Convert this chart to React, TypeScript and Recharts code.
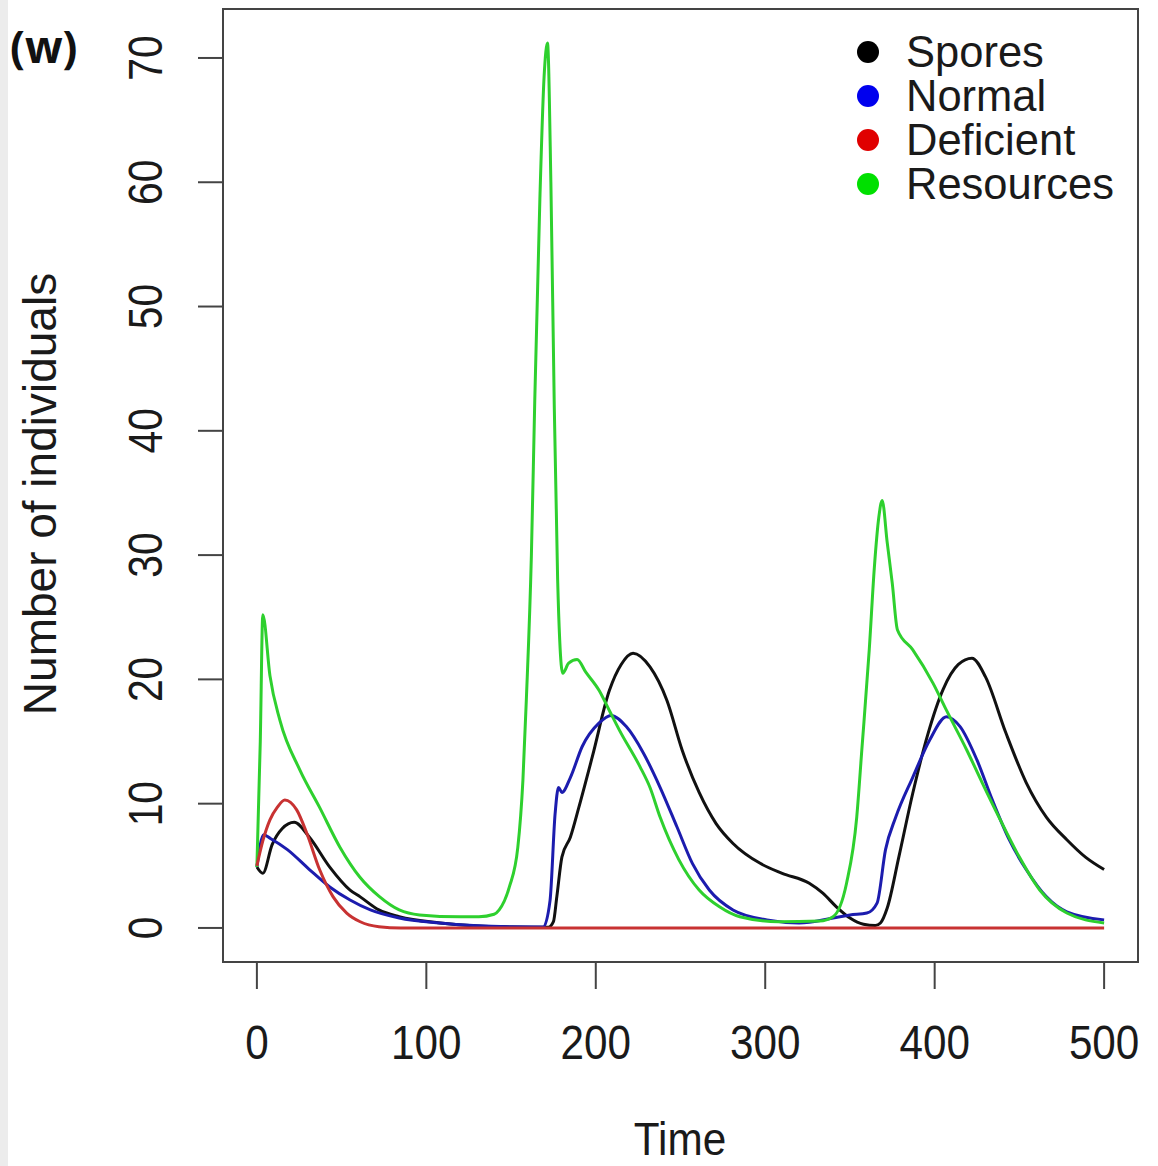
import React from "react";
import {
  LineChart,
  Line,
  XAxis,
  YAxis,
  Legend,
  ReferenceArea,
} from "recharts";

// time points and values for each population
const sporesTime = [0, 3.5, 9, 15, 22, 31, 43, 55, 61, 72, 84, 108, 130, 150, 172, 175, 177, 180, 185, 190, 198, 208, 215, 222, 232, 242, 251, 261, 271, 281, 297, 310, 326, 334, 342, 350, 358, 365, 368, 372, 379, 387, 396, 405, 414, 422, 430, 442, 454, 466, 478, 489, 500];
const sporesValue = [4.9, 4.4, 6.7, 8.0, 8.5, 7.3, 4.9, 3.05, 2.5, 1.45, 0.9, 0.4, 0.15, 0.08, 0.05, 0.5, 2.5, 5.7, 7.3, 9.7, 13.8, 19.1, 21.2, 22.1, 21.0, 18.3, 14.3, 10.9, 8.4, 6.8, 5.2, 4.4, 3.6, 2.8, 1.7, 0.8, 0.3, 0.2, 0.4, 1.6, 5.8, 10.8, 15.6, 19.2, 21.2, 21.7, 20.2, 15.7, 11.7, 8.9, 7.1, 5.7, 4.7];

const normalTime = [0, 4, 8, 18, 31, 43, 55, 67, 84, 108, 150, 169, 173, 176, 178, 180, 185, 192, 202, 209, 218, 228, 238, 248, 257, 267, 281, 301, 320, 340, 350, 360, 366, 371, 377, 387, 397, 407, 415, 425, 434, 444, 454, 466, 478, 500];
const normalValue = [4.9, 7.5, 7.2, 6.3, 4.7, 3.3, 2.25, 1.45, 0.8, 0.4, 0.1, 0.08, 2.2, 9.2, 11.3, 10.9, 12.1, 14.6, 16.5, 17.1, 16.2, 14.1, 11.3, 8.1, 5.2, 3.05, 1.45, 0.65, 0.4, 0.8, 1.05, 1.2, 2.0, 6.3, 8.9, 12.1, 15.1, 17.0, 16.2, 13.5, 10.3, 7.1, 4.7, 2.5, 1.3, 0.65];

const deficientTime = [0, 3.5, 7.7, 12, 16.5, 23.5, 29.5, 37, 45, 53, 61, 72, 85, 200, 300, 400, 500];
const deficientValue = [5.0, 7.0, 8.7, 9.7, 10.3, 9.5, 7.6, 4.7, 2.5, 1.2, 0.5, 0.1, 0, 0, 0, 0, 0];

const resourcesTime = [0, 2, 3.5, 7.7, 13.6, 25.4, 37, 49, 60.7, 72.5, 84, 96, 120, 131, 140, 143, 149, 154, 157, 159, 162, 164, 167, 169.5, 171.5, 173.5, 175.5, 177.5, 178.7, 180.5, 184, 189, 194, 202, 208, 214, 226, 232, 238, 249, 261, 273, 285, 308, 332, 340, 348, 354, 357, 361.4, 364.4, 367, 369, 372, 375, 378, 387, 399, 407, 419, 428, 438, 450, 462, 478, 500];
const resourcesValue = [4.9, 15, 25.2, 20.3, 16.7, 12.7, 9.7, 6.5, 4.1, 2.5, 1.45, 1.05, 0.9, 0.9, 1.1, 1.45, 3.3, 6.5, 11.9, 18.3, 30, 42.5, 58.6, 68.5, 71.2, 60, 42, 28, 23.2, 20.5, 21.3, 21.6, 20.6, 19.1, 17.5, 15.9, 13.0, 11.3, 8.9, 5.5, 3.05, 1.7, 0.9, 0.5, 0.55, 0.9, 3.6, 8.9, 14.3, 22.4, 29, 33, 34.4, 31, 27.7, 24.0, 22.4, 19.7, 17.5, 14.3, 11.7, 8.9, 5.7, 3.05, 1.2, 0.4];

const xTicks = [0, 100, 200, 300, 400, 500];
const yTicks = [0, 10, 20, 30, 40, 50, 60, 70];

const toPoints = (t: number[], v: number[]) => t.map((time, i) => ({ t: time, v: v[i] }));

const series = [
  { name: "Spores", points: toPoints(sporesTime, sporesValue), stroke: "#111111", dot: "#000000" },
  { name: "Normal", points: toPoints(normalTime, normalValue), stroke: "#1c1cae", dot: "#0000ee" },
  { name: "Resources", points: toPoints(resourcesTime, resourcesValue), stroke: "#2ed02e", dot: "#00e000" },
  { name: "Deficient", points: toPoints(deficientTime, deficientValue), stroke: "#c83232", dot: "#e00000" },
];
const legendOrder = ["Spores", "Normal", "Deficient", "Resources"];

const FONT = "'Liberation Sans', Arial, Helvetica, sans-serif";
const INK = "#1a1a1a";
const AXIS = "#444";

function XTick(props: any) {
  const { x, y, payload } = props;
  return (
    <text
      transform={`translate(${x}, ${y + 68}) scale(0.88, 1)`}
      textAnchor="middle"
      fontSize={48}
      fontFamily={FONT}
      fill={INK}
    >
      {payload.value}
    </text>
  );
}

function YTick(props: any) {
  const { x, y, payload } = props;
  return (
    <text
      transform={`translate(${x - 34}, ${y}) rotate(-90) scale(0.85, 1)`}
      textAnchor="middle"
      fontSize={48}
      fontFamily={FONT}
      fill={INK}
    >
      {payload.value}
    </text>
  );
}

function LegendBox() {
  return (
    <svg width={310} height={180}>
      {legendOrder.map((name, i) => {
        const s = series.find((d) => d.name === name)!;
        const cy = 24 + i * 44;
        return (
          <g key={name}>
            <circle cx={22} cy={cy} r={11} fill={s.dot} />
            <text x={60} y={cy + 15} fontSize={43.5} fontFamily={FONT} fill={INK}>
              {name}
            </text>
          </g>
        );
      })}
    </svg>
  );
}

export default function App() {
  return (
    <div style={{ position: "absolute", left: 0, top: 0, width: 1158, height: 1166, background: "#fff", overflow: "hidden" }}>
      <div style={{ position: "absolute", left: 0, top: 0, width: 8, height: 1166, background: "#ececec" }} />
      <svg style={{ position: "absolute", left: 0, top: 0 }} width={120} height={90}>
        <text x={10} y={63} fontSize={44} fontWeight={700} fontFamily="'Open Sans', 'Noto Sans', sans-serif" fill="#111">
          (w)
        </text>
      </svg>
      <div style={{ position: "absolute", left: 0, top: 0 }}>
        <LineChart width={1158} height={1166} margin={{ top: 9, right: 20, bottom: 0, left: 0 }}>
          <XAxis
            type="number"
            dataKey="t"
            domain={[-20, 520]}
            ticks={xTicks}
            height={204}
            tickSize={27}
            tick={<XTick />}
            axisLine={{ stroke: AXIS, strokeWidth: 2 }}
            tickLine={{ stroke: AXIS, strokeWidth: 2 }}
            allowDataOverflow
            label={{
              content: () => (
                <text
                  transform="translate(680, 1155) scale(0.92, 1)"
                  textAnchor="middle"
                  fontSize={46}
                  fontFamily={FONT}
                  fill={INK}
                >
                  Time
                </text>
              ),
            }}
          />
          <YAxis
            type="number"
            dataKey="v"
            domain={[-2.74, 73.94]}
            ticks={yTicks}
            width={223}
            tickSize={25}
            tick={<YTick />}
            axisLine={{ stroke: AXIS, strokeWidth: 2 }}
            tickLine={{ stroke: AXIS, strokeWidth: 2 }}
            allowDataOverflow
            label={{
              content: () => (
                <text
                  transform="translate(56, 494) rotate(-90)"
                  textAnchor="middle"
                  fontSize={46}
                  fontFamily={FONT}
                  fill={INK}
                >
                  Number of individuals
                </text>
              ),
            }}
          />
          <ReferenceArea
            x1={-20}
            x2={520}
            y1={-2.74}
            y2={73.94}
            fill="none"
            stroke={AXIS}
            strokeWidth={2}
            ifOverflow="visible"
          />
          {series.map((s) => (
            <Line
              key={s.name}
              data={s.points}
              dataKey="v"
              name={s.name}
              type="monotone"
              stroke={s.stroke}
              strokeWidth={3}
              dot={false}
              isAnimationActive={false}
            />
          ))}
          <Legend
            layout="vertical"
            align="center"
            verticalAlign="middle"
            content={() => <LegendBox />}
            wrapperStyle={{ position: "absolute", left: 846, top: 28, width: 310, height: 180 }}
          />
        </LineChart>
      </div>
    </div>
  );
}
